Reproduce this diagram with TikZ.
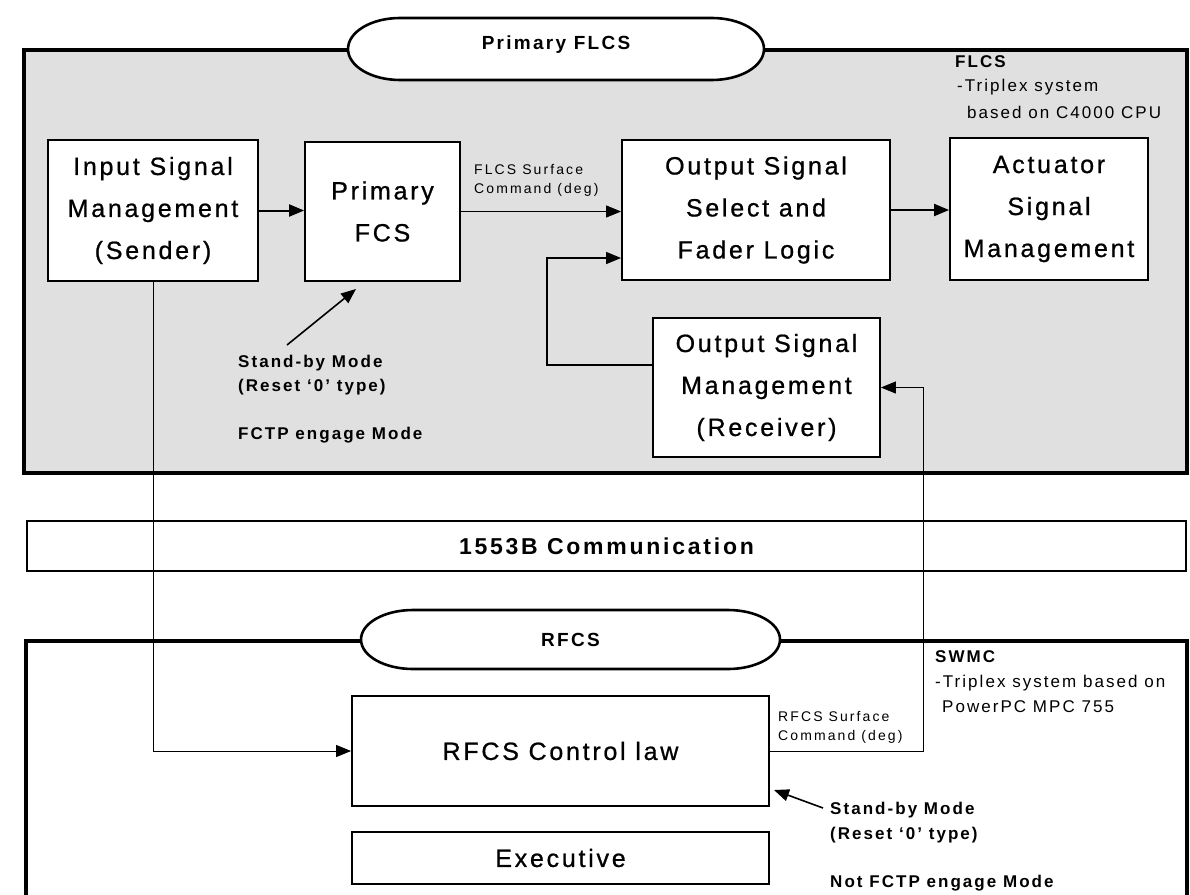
\documentclass[tikz,border=0pt]{standalone}
\usepackage{fontspec}
\setmainfont{Liberation Sans}
\newfontfamily\bxf[LetterSpace=11,FakeBold=0.8]{Liberation Sans}
\newfontfamily\lbf[LetterSpace=12]{Liberation Sans}
\newfontfamily\smf[LetterSpace=15]{Liberation Sans}
\usetikzlibrary{arrows.meta}
\begin{document}
\begin{tikzpicture}[x=1pt,y=-1pt,
  box/.style={draw,line width=1.8pt,fill=white,align=center,inner sep=0pt,
    font=\bxf\fontsize{25}{42}\selectfont},
  pilltext/.style={inner sep=0pt,font=\lbf\bfseries\fontsize{19}{22}\selectfont},
  pillline/.style={draw,line width=2.6pt,fill=white},
  arr/.style={-{Triangle[length=15pt,width=12pt]}},
  small/.style={anchor=west,align=left,inner sep=0pt,font=\smf\fontsize{14}{19}\selectfont},
  note/.style={anchor=west,align=left,inner sep=0pt,font=\lbf\fontsize{17}{25}\selectfont},
  bnote/.style={anchor=west,inner sep=0pt,font=\lbf\bfseries\fontsize{17}{24}\selectfont}]
\useasboundingbox (0,0) rectangle (1190,894);
\clip (0,0) rectangle (1190,894);
\fill[white] (0,0) rectangle (1190,894);

% top frame
\draw[line width=3.5pt,fill=gray!24] (24,50) rectangle (1187,473);
\path[pillline] (400,18) -- (712,18) arc[start angle=-90,end angle=90,x radius=52,y radius=31]
  -- (400,80) arc[start angle=90,end angle=270,x radius=52,y radius=31] -- cycle;
\node[pilltext] (pflcs) at (556,45) {Primary FLCS};

% 1553B bar
\node[draw,line width=1.5pt,fill=white,minimum width=1159pt,minimum height=50pt,inner sep=0pt,
  font=\lbf\bfseries\fontsize{23}{26}\selectfont] (bus) at (606.5,546) {1553B Communication};

% bottom frame
\draw[line width=3.5pt,fill=white] (26,900) -- (26,641) -- (1187,641) -- (1187,900);
\path[pillline] (413,610) -- (728,610) arc[start angle=-90,end angle=90,x radius=52,y radius=29.5]
  -- (413,669) arc[start angle=90,end angle=270,x radius=52,y radius=29.5] -- cycle;
\node[pilltext] (prfcs) at (570.5,640) {RFCS};

% top boxes
\node[box,minimum width=210pt,minimum height=141pt] (in) at (153,210.5) {Input Signal\\Management\\(Sender)};
\node[box,minimum width=155pt,minimum height=139pt] (pfcs) at (382.5,211.5) {Primary\\FCS};
\node[box,minimum width=268pt,minimum height=140pt] (osel) at (756,210) {Output Signal\\Select and\\Fader Logic};
\node[box,minimum width=198pt,minimum height=142pt] (act) at (1049,209) {Actuator\\Signal\\Management};
\node[box,minimum width=227pt,minimum height=139pt] (omgmt) at (766.5,387.5) {Output Signal\\Management\\(Receiver)};

% bottom boxes
\node[box,minimum width=417pt,minimum height=110pt] (rcl) at (560.5,751) {RFCS Control law};
\node[box,minimum width=417pt,minimum height=52pt] (exec) at (560.5,858) {Executive};

% notes
\node[note] (flcsn) at (955,62) {\bfseries FLCS};
\node[note] (flcs1) at (957,87) {-Triplex system};
\node[note] (flcs2) at (967,112) {based on C4000 CPU};
\node[note] (swmc) at (935,657) {\bfseries SWMC};
\node[note] (swmc1) at (935,683) {-Triplex system based on};
\node[note] (swmc2) at (942,707) {PowerPC MPC 755};

\node[small] (fsc) at (474,180) {FLCS Surface\\Command (deg)};
\node[small] (rsc) at (778,727) {RFCS Surface\\Command (deg)};

\node[bnote] (sb1a) at (238,363) {Stand-by Mode};
\node[bnote] (sb1b) at (238,387) {(Reset ‘0’ type)};
\node[bnote] (sb1c) at (238,435) {FCTP engage Mode};
\node[bnote] (sb2a) at (830,810) {Stand-by Mode};
\node[bnote] (sb2b) at (830,835) {(Reset ‘0’ type)};
\node[bnote] (sb2c) at (830,883) {Not FCTP engage Mode};

% connectors
\draw[arr,line width=2pt] (in.east) -- (in.east -| pfcs.west);
\draw[arr,line width=1pt] (pfcs.east) -- (pfcs.east -| osel.west);
\draw[arr,line width=2pt] (osel.east) -- (osel.east -| act.west);
\coordinate (fb1) at (547,365);
\coordinate (fb2) at (547,258);
\draw[arr,line width=1.3pt] (omgmt.west |- fb1) -- (fb1) -- (fb2) -- (fb2 -| osel.west);
\draw[arr,line width=1pt] (in.south) -- (in.south |- rcl.west) -- (rcl.west);
\coordinate (rr) at (923,751);
\draw[arr,line width=1pt] (rcl.east) -- (rr) -- (rr |- omgmt.east) -- (omgmt.east);
\coordinate (sbt1) at (287,345);
\coordinate (sbh1) at (356,289);
\draw[arr,line width=1.6pt] (sbt1) -- (sbh1);
\coordinate (sbt2) at (823,808);
\coordinate (sbh2) at (774,790);
\draw[arr,line width=1.6pt] (sbt2) -- (sbh2);
\end{tikzpicture}
\end{document}
